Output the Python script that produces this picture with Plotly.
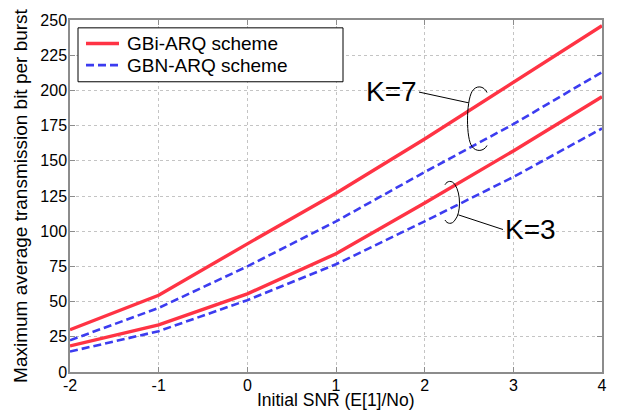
import plotly.graph_objects as go

snr = [-2, -1, 0, 1, 2, 3, 4]
gbi_k7 = [30, 54.5, 91, 127, 165.5, 206, 246]
gbn_k7 = [22.5, 45.5, 75, 107, 142, 176, 213]
gbi_k3 = [18.5, 33.5, 55.5, 84, 120, 157, 195.5]
gbn_k3 = [14.5, 29, 51, 76.5, 107, 138.5, 173]
x_ticks = [-2, -1, 0, 1, 2, 3, 4]
x_tick_labels = ["-2", "-1", "0", "1", "2", "3", "4"]
y_ticks = [0, 25, 50, 75, 100, 125, 150, 175, 200, 225, 250]
legend_names = ["GBi-ARQ scheme", "GBN-ARQ scheme"]
x_title = "Initial SNR (E[1]/No)"
y_title = "Maximum average transmission bit per burst"

RED = "#ff3344"
BLUE = "#3c3cf0"
FONT = "Liberation Sans, Arial, Helvetica, sans-serif"

W, H = 620, 412
L, R, T, B = 70, 18, 13, 40
XR = (-2, 4)
YR = (0, 250)
PW, PH = W - L - R, H - T - B


def px2d(px, py):
    x = XR[0] + (px - L) / PW * (XR[1] - XR[0])
    y = YR[0] + (H - B - py) / PH * (YR[1] - YR[0])
    return x, y


def px2p(px, py):
    return (px - L) / PW, (H - B - py) / PH


def path_from_px(cmds):
    out = []
    for c in cmds:
        if isinstance(c, str):
            out.append(c)
        else:
            x, y = px2d(*c)
            out.append(f"{x:.4f},{y:.4f}")
    return " ".join(out)


red_line = dict(color=RED, width=3.4)
blue_line = dict(color=BLUE, width=2.6, dash="8px,4px")

fig = go.Figure()
fig.add_trace(go.Scatter(x=snr, y=gbi_k7, mode="lines", name=legend_names[0], line=red_line))
fig.add_trace(go.Scatter(x=snr, y=gbn_k7, mode="lines", name=legend_names[1], line=blue_line))
fig.add_trace(go.Scatter(x=snr, y=gbi_k3, mode="lines", name=legend_names[0] + " (K=3)", line=red_line))
fig.add_trace(go.Scatter(x=snr, y=gbn_k3, mode="lines", name=legend_names[1] + " (K=3)", line=blue_line))

# brackets
k7_path = path_from_px(["M", (487, 87), "C", (484, 80), (476, 79), (472, 86),
                        "C", (466, 97), (466, 134), (472, 142),
                        "C", (476, 148), (484, 147), (487, 141)])
k3_path = path_from_px(["M", (445, 181), "C", (447, 177), (452, 176), (455, 181),
                        "C", (461, 190), (461, 210), (455, 217),
                        "C", (452, 222), (447, 221), (445, 217)])
for p in (k7_path, k3_path):
    fig.add_shape(type="path", path=p, xref="x", yref="y",
                  line=dict(color="black", width=1))

for (a, b) in [((419, 86.5), (468.7, 97.5)), ((458.3, 211.7), (503, 226.7))]:
    x0, y0 = px2d(*a)
    x1, y1 = px2d(*b)
    fig.add_shape(type="line", x0=x0, y0=y0, x1=x1, y1=y1, xref="x", yref="y",
                  line=dict(color="black", width=1))

for txt, pos in [("K=7", (391, 86)), ("K=3", (530, 227))]:
    tx, ty = px2d(*pos)
    fig.add_annotation(x=tx, y=ty, text=txt, showarrow=False, xref="x", yref="y",
                       font=dict(family=FONT, size=28, color="black"))

# legend box (drawn manually to match compact spacing)
bx0, by0 = px2p(78, 76)
bx1, by1 = px2p(343, 21)
fig.add_shape(type="rect", xref="paper", yref="paper", x0=bx0, y0=by0, x1=bx1, y1=by1,
              fillcolor="white", line=dict(color="black", width=1), layer="above")
for name, ly, style in [(legend_names[0], 37, red_line), (legend_names[1], 59, blue_line)]:
    lx0, lyp = px2p(86, ly)
    lx1, _ = px2p(119, ly)
    fig.add_shape(type="line", xref="paper", yref="paper", x0=lx0, x1=lx1, y0=lyp, y1=lyp,
                  line=style, layer="above")
    tx, _ = px2p(125, ly)
    fig.add_annotation(x=tx, y=lyp, xref="paper", yref="paper", text=name, showarrow=False,
                       xanchor="left", yanchor="middle",
                       font=dict(family=FONT, size=19, color="black"))

# x-axis title placed precisely near the bottom edge
xt, yt = px2p(336, 411.5)
fig.add_annotation(x=xt, y=yt, xref="paper", yref="paper", text=x_title, showarrow=False,
                   xanchor="center", yanchor="bottom", borderpad=0,
                   font=dict(family=FONT, size=17.5, color="black"))

axis_common = dict(
    showline=True, linecolor="#8c8c8c", linewidth=1.5, mirror="ticks",
    ticks="inside", ticklen=5, tickcolor="#8c8c8c",
    showgrid=True, gridcolor="#c4c4c4", griddash="dot", gridwidth=1,
    zeroline=False, tickfont=dict(family=FONT, size=16, color="black"),
)

fig.update_xaxes(range=list(XR), tickvals=x_ticks, ticktext=x_tick_labels,
                 ticklabelstandoff=-2, **axis_common)
fig.update_yaxes(range=list(YR), tickvals=y_ticks, ticklabelstandoff=-2, **axis_common,
                 title=dict(text=y_title, standoff=8,
                            font=dict(family=FONT, size=19, color="black")))

fig.update_layout(
    width=W, height=H,
    margin=dict(l=L, r=R, t=T, b=B, pad=0),
    paper_bgcolor="white", plot_bgcolor="white",
    showlegend=False,
)

fig.write_html("out.html", config={"displayModeBar": False},
               post_script="document.body.style.margin='0';document.body.style.overflow='hidden';")
